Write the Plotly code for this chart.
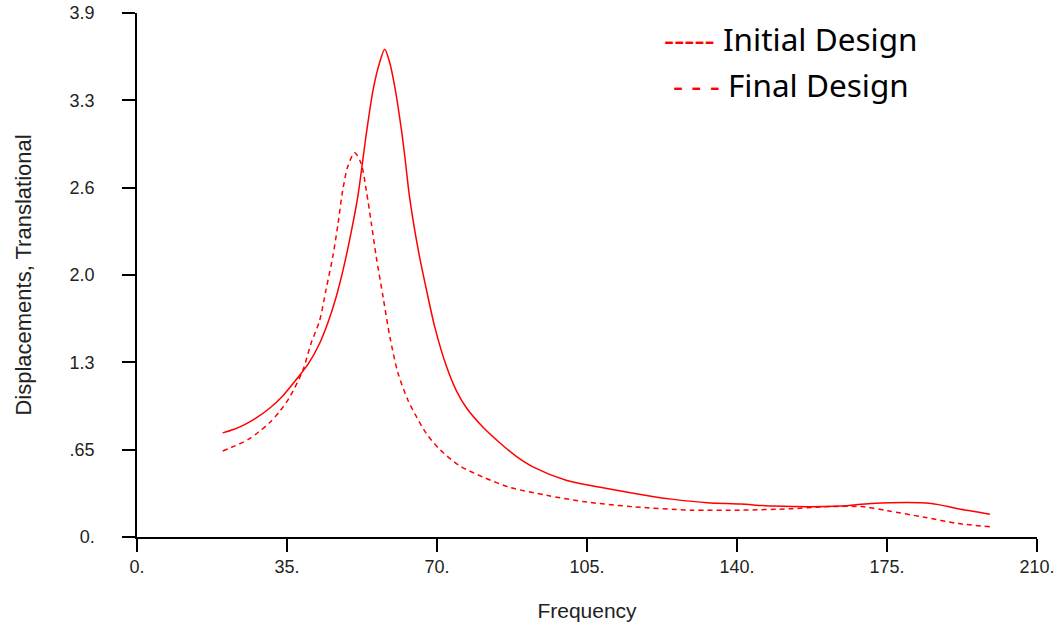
import plotly.graph_objects as go

# Initial Design (solid)
freq_initial = [20, 22.5, 25, 28, 31, 34, 37.1, 40, 42.6, 44.6, 46.5, 48.1, 49.6, 51.5, 53.5,
                55.1, 56.6, 57.8, 58.8, 60.1, 61.7, 62.5, 63.6, 65.6, 67.2, 69.5, 72.2,
                74.5, 76.9, 80.8, 84.7, 88.5, 92.5, 100.3, 108.1, 120.6, 125.2, 133.1,
                140.9, 148.6, 164.2, 171.3, 185.3, 191.6, 199]
disp_initial = [0.775, 0.80, 0.835, 0.89, 0.96, 1.05, 1.17, 1.29, 1.44, 1.60, 1.79, 1.99,
                2.21, 2.53, 3.0, 3.33, 3.53, 3.63, 3.55, 3.36, 3.03, 2.83, 2.53, 2.14,
                1.89, 1.56, 1.27, 1.09, 0.96, 0.815, 0.70, 0.60, 0.52, 0.42, 0.37, 0.30,
                0.28, 0.255, 0.245, 0.23, 0.23, 0.25, 0.25, 0.21, 0.17]

# Final Design (dashed)
freq_final = [20, 23, 26.2, 28.5, 30.9, 33.3, 35.6, 38.7, 40.6, 42.6, 44.1, 45.7, 46.9, 48.0,
              49.2, 50.8, 52.3, 53.5, 54.7, 55.8, 57.4, 59.0, 60.9, 63.2, 65.3, 67.5, 70.7,
              75.3, 80.8, 87.0, 95.6, 105, 115.9, 129.2, 140.9, 152.5, 160.3, 169.6,
              175.2, 183.7, 191.6, 199]
disp_final = [0.64, 0.68, 0.73, 0.785, 0.85, 0.935, 1.04, 1.24, 1.44, 1.61, 1.84, 2.09, 2.33,
              2.58, 2.76, 2.86, 2.78, 2.58, 2.33, 2.09, 1.79, 1.49, 1.22, 1.02, 0.89, 0.77,
              0.65, 0.53, 0.445, 0.37, 0.31, 0.26, 0.225, 0.20, 0.20, 0.21, 0.225, 0.225,
              0.195, 0.147, 0.10, 0.077]

x_tickvals = [0, 35, 70, 105, 140, 175, 210]
x_ticktext = ["0.", "35.", "70.", "105.", "140.", "175.", "210."]
y_tickvals = [0, 0.65, 1.3, 1.95, 2.6, 3.25, 3.9]
y_ticktext = ["0.", ".65", "1.3", "2.0", "2.6", "3.3", "3.9"]

RED = "#ff0000"
tick_font = dict(family="Liberation Sans Narrow, Arial Narrow, Liberation Sans, Arial", size=18, color="#222222")

fig = go.Figure()
fig.add_trace(go.Scatter(x=freq_initial, y=disp_initial, mode="lines", name="Initial Design",
                         line=dict(color=RED, width=1.5, shape="spline", smoothing=0.8)))
fig.add_trace(go.Scatter(x=freq_final, y=disp_final, mode="lines", name="Final Design",
                         line=dict(color=RED, width=1.5, dash="5px,4px", shape="spline", smoothing=0.8)))

fig.update_layout(
    width=1056, height=623,
    margin=dict(l=137, r=19, t=13, b=86, autoexpand=False),
    paper_bgcolor="white", plot_bgcolor="white",
    showlegend=False,
    xaxis=dict(range=[0, 210], tickvals=x_tickvals, ticktext=x_ticktext,
               showgrid=False, zeroline=False, showline=True, linecolor="black", linewidth=1.5,
               ticks="outside", ticklen=13, tickwidth=1.5, tickcolor="black",
               tickfont=tick_font, ticklabelstandoff=0,
               title=dict(text="Frequency", font=dict(family="Liberation Sans, Arial", size=21, color="#222222"),
                          standoff=27)),
    yaxis=dict(range=[0, 3.9], tickvals=y_tickvals, ticktext=y_ticktext,
               showgrid=False, zeroline=False, showline=True, linecolor="black", linewidth=1.5,
               ticks="outside", ticklen=13, tickwidth=1.5, tickcolor="black",
               tickfont=tick_font, ticklabelstandoff=24,
               title=dict(text="Displacements, Translational",
                          font=dict(family="Liberation Sans, Arial", size=22, color="#222222"),
                          standoff=32)),
)

legend_font = dict(family="Noto Sans", size=31.5, color="black")
fig.add_annotation(xref="paper", yref="paper", x=(662 - 137) / 900, y=(537 - 38) / 524,
                   xanchor="left", yanchor="middle", showarrow=False, font=legend_font,
                   text="<span style='color:#ff0000'>-----</span> Initial Design")
fig.add_annotation(xref="paper", yref="paper", x=(671 - 137) / 900, y=(537 - 84) / 524,
                   xanchor="left", yanchor="middle", showarrow=False, font=legend_font,
                   text="<span style='color:#ff0000'>- - -</span> Final Design")

fig.write_html("out.html")
